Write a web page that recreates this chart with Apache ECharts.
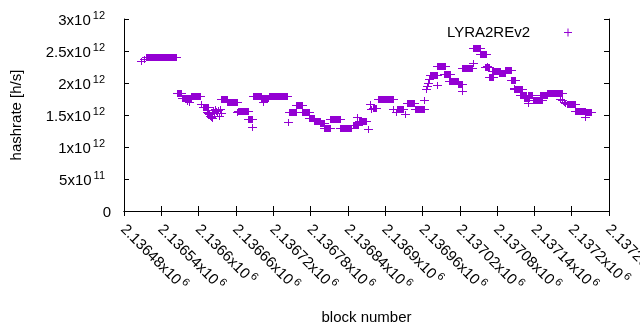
<!DOCTYPE html>
<html lang="en">
<head>
    <meta charset="utf-8">
    <title>LYRA2REv2 hashrate</title>
    <script src="https://cdn.jsdelivr.net/npm/echarts@6/dist/echarts.min.js"></script>
    <style>
        html, body {margin: 0; padding: 0; background: #fff;}
        #chart {width: 640px; height: 330px;}
    </style>
</head>
<body>
<div id="chart"></div>
<script type="text/javascript">
    // runs of equal hashrate: first block, last block, hashrate in 1e12 h/s
    const runStart = [
        2136507, 2136512, 2136515, 2136565, 2136573, 2136581, 2136585, 2136588, 2136604, 2136607,
        2136613, 2136615, 2136617, 2136618, 2136620, 2136622, 2136623, 2136625, 2136626, 2136628,
        2136630, 2136631, 2136633, 2136634, 2136636, 2136636, 2136646, 2136661, 2136663, 2136679,
        2136686, 2136688, 2136701, 2136704, 2136713, 2136743, 2136745, 2136757, 2136767, 2136778,
        2136786, 2136795, 2136802, 2136811, 2136827, 2136848, 2136855, 2136858, 2136873, 2136876,
        2136878, 2136880, 2136888, 2136913, 2136917, 2136919, 2136932, 2136935, 2136948, 2136963,
        2136965, 2136967, 2136969, 2136970, 2136972, 2136984, 2136984, 2136995, 2137003, 2137017,
        2137024, 2137024, 2137042, 2137042, 2137053, 2137063, 2137061, 2137067, 2137072, 2137083,
        2137093, 2137102, 2137107, 2137108, 2137117, 2137123, 2137130, 2137130, 2137137, 2137149,
        2137160, 2137181, 2137184, 2137187, 2137190, 2137193, 2137205, 2137221, 2137221
    ];
    const runEnd = [
        2136507, 2136512, 2136564, 2136572, 2136588, 2136581, 2136585, 2136602, 2136604, 2136615,
        2136613, 2136615, 2136617, 2136618, 2136620, 2136622, 2136623, 2136625, 2136626, 2136628,
        2136630, 2136631, 2136633, 2136634, 2136636, 2136646, 2136662, 2136661, 2136679, 2136686,
        2136686, 2136700, 2136712, 2136704, 2136742, 2136743, 2136757, 2136767, 2136778, 2136786,
        2136795, 2136802, 2136811, 2136827, 2136845, 2136857, 2136855, 2136869, 2136873, 2136876,
        2136878, 2136886, 2136913, 2136913, 2136917, 2136929, 2136932, 2136946, 2136962, 2136963,
        2136965, 2136967, 2136969, 2136970, 2136983, 2136984, 2136996, 2137004, 2137017, 2137023,
        2137024, 2137040, 2137042, 2137053, 2137062, 2137063, 2137067, 2137073, 2137084, 2137093,
        2137102, 2137109, 2137107, 2137120, 2137126, 2137132, 2137130, 2137136, 2137152, 2137160,
        2137184, 2137181, 2137184, 2137187, 2137190, 2137205, 2137221, 2137231, 2137221
    ];
    const runRate = [
        2.34, 2.38, 2.41, 1.85, 1.77, 1.72, 1.70, 1.80, 1.67, 1.63,
        1.55, 1.53, 1.51, 1.48, 1.47, 1.45, 1.58, 1.55, 1.59, 1.56,
        1.53, 1.58, 1.48, 1.59, 1.53, 1.75, 1.70, 1.54, 1.56, 1.44,
        1.32, 1.80, 1.76, 1.71, 1.80, 1.39, 1.54, 1.65, 1.54, 1.45,
        1.40, 1.38, 1.29, 1.43, 1.29, 1.35, 1.47, 1.41, 1.28, 1.67,
        1.60, 1.61, 1.75, 1.59, 1.55, 1.60, 1.52, 1.68, 1.60, 1.73,
        1.90, 1.95, 2.00, 2.06, 2.13, 1.97, 2.27, 2.14, 2.03, 1.98,
        1.88, 2.24, 2.31, 2.55, 2.46, 2.27, 2.25, 2.09, 2.19, 2.15,
        2.20, 2.05, 1.92, 1.90, 1.81, 1.76, 1.69, 1.81, 1.73, 1.82,
        1.85, 1.75, 1.73, 1.71, 1.69, 1.67, 1.57, 1.55, 1.47
    ];

    const xMin = 2136480, xMax = 2137260, xStep = 60;
    const yMin = 0, yMax = 3e12, yStep = 5e11;
    const seriesName = 'LYRA2REv2';
    const color = '#9400d3';
    const font = 'Liberation Sans';

    const points = runStart.map(function (s, i) {
        return [s, runEnd[i], runRate[i] * 1e12];
    });

    // gnuplot style "2.5x10^12"
    function sci(v)
    {
        if (v === 0) return '{a|0}';
        const e = Math.floor(Math.log10(v) + 1e-9);
        const m = +(v / Math.pow(10, e)).toFixed(6);
        return '{a|' + m + 'x10}{s|' + e + '}';
    }

    function richText(rightPad)
    {
        return {
            a: {fontSize: 15, fontFamily: font, color: '#000', lineHeight: 18, verticalAlign: 'bottom'},
            s: {fontSize: 11, fontFamily: font, color: '#000', lineHeight: 14, verticalAlign: 'top', padding: [0, rightPad, 0, 2]}
        };
    }

    const frame = {show: true, lineStyle: {color: '#000', width: 1}};
    const ticks = {show: true, inside: true, length: 5, lineStyle: {color: '#000', width: 1}};

    const chart = echarts.init(document.getElementById('chart'), null, {renderer: 'canvas'});
    const option = {
        animation: false,
        backgroundColor: '#fff',
        grid: {left: 124, right: 31, top: 19, bottom: 119, containLabel: false, outerBoundsMode: 'none'},
        legend: {
            data: [{name: seriesName, icon: 'path://M0,3.5H8V4.5H0Z M3.5,0H4.5V8H3.5Z'}],
            right: 68,
            top: 25,
            padding: 0,
            align: 'right',
            itemWidth: 8,
            itemHeight: 8,
            textStyle: {fontSize: 15, fontFamily: font, color: '#000', padding: [0, 29, 0, 0]}
        },
        xAxis: [{
            type: 'value',
            min: xMin,
            max: xMax,
            interval: xStep,
            name: 'block number',
            nameLocation: 'middle',
            nameGap: 99,
            nameTextStyle: {fontSize: 15, fontFamily: font, color: '#000'},
            axisLine: frame,
            axisTick: ticks,
            splitLine: {show: false},
            axisLabel: {
                rotate: -45,
                margin: 15,
                showMinLabel: true,
                showMaxLabel: true,
                hideOverlap: false,
                formatter: sci,
                rich: richText(0)
            }
        }, {
            type: 'value',
            position: 'top',
            min: xMin,
            max: xMax,
            interval: xStep,
            axisLine: frame,
            axisTick: ticks,
            splitLine: {show: false},
            axisLabel: {show: false}
        }],
        yAxis: [{
            type: 'value',
            min: yMin,
            max: yMax,
            interval: yStep,
            name: 'hashrate [h/s]',
            nameLocation: 'middle',
            nameGap: 100,
            nameTextStyle: {fontSize: 15, fontFamily: font, color: '#000'},
            axisLine: frame,
            axisTick: ticks,
            splitLine: {show: false},
            axisLabel: {margin: 13, formatter: sci, rich: richText(6)}
        }, {
            type: 'value',
            position: 'right',
            min: yMin,
            max: yMax,
            interval: yStep,
            axisLine: frame,
            axisTick: ticks,
            splitLine: {show: false},
            axisLabel: {show: false}
        }],
        series: [{
            name: seriesName,
            type: 'custom',
            color: color,
            itemStyle: {color: color},
            encode: {x: [0, 1], y: 2},
            data: points,
            renderItem: function (params, api)
            {
                // a run of '+' points: filled body plus the arms of the outer points
                const a = api.coord([api.value(0), api.value(2)]);
                const b = api.coord([api.value(1), api.value(2)]);
                const y = Math.round(a[1]);
                const x0 = Math.round(a[0]);
                const x1 = Math.round(b[0]);
                return {
                    type: 'group',
                    children: [{
                        type: 'rect',
                        shape: {x: x0, y: y - 3, width: x1 - x0 + 1, height: 7},
                        style: {fill: color}
                    }, {
                        type: 'rect',
                        shape: {x: x0 - 4, y: y, width: x1 - x0 + 9, height: 1},
                        style: {fill: color}
                    }]
                };
            }
        }]
    };
    chart.setOption(option);
</script>
</body>
</html>
